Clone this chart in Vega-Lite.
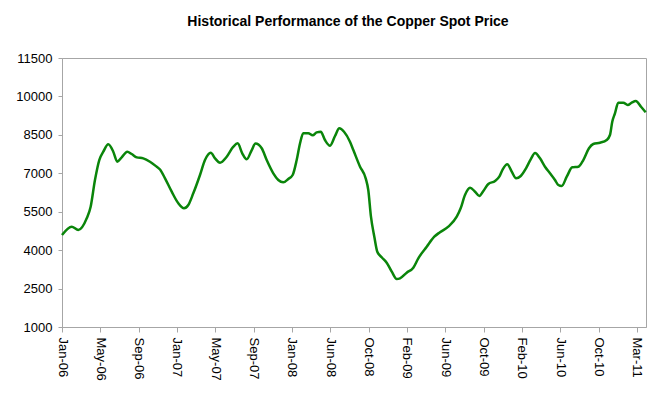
{
  "$schema": "https://vega.github.io/schema/vega-lite/v6.json",
  "width": 584,
  "height": 269,
  "autosize": {"type": "none"},
  "padding": {"left": 62, "top": 58, "right": 23, "bottom": 70},
  "background": "white",
  "title": {
    "text": "Historical Performance of the Copper Spot Price",
    "font": "Liberation Sans",
    "fontSize": 14,
    "fontWeight": "bold",
    "color": "black",
    "anchor": "middle",
    "dx": -6,
    "offset": 23
  },
  "config": {
    "view": {"stroke": "#a6a6a6", "strokeWidth": 1},
    "axis": {
      "labelFont": "Liberation Sans",
      "labelFontSize": 13,
      "labelColor": "black",
      "domainColor": "#a6a6a6",
      "tickColor": "#a6a6a6",
      "grid": false,
      "title": null
    }
  },
  "data": {
    "values": [
      {"t": 0, "price": 4591},
      {"t": 1.01, "price": 4915},
      {"t": 1.70, "price": 4786},
      {"t": 2.58, "price": 5243},
      {"t": 2.99, "price": 5696},
      {"t": 3.44, "price": 6738},
      {"t": 3.89, "price": 7518},
      {"t": 4.31, "price": 7843},
      {"t": 4.83, "price": 8131},
      {"t": 5.35, "price": 7843},
      {"t": 5.77, "price": 7452},
      {"t": 6.23, "price": 7623},
      {"t": 6.81, "price": 7843},
      {"t": 7.27, "price": 7752},
      {"t": 7.80, "price": 7623},
      {"t": 8.48, "price": 7584},
      {"t": 9.18, "price": 7452},
      {"t": 9.88, "price": 7257},
      {"t": 10.23, "price": 7150},
      {"t": 10.75, "price": 6804},
      {"t": 11.45, "price": 6281},
      {"t": 12.14, "price": 5828},
      {"t": 12.73, "price": 5633},
      {"t": 13.18, "price": 5762},
      {"t": 13.70, "price": 6218},
      {"t": 14.40, "price": 6933},
      {"t": 14.92, "price": 7518},
      {"t": 15.52, "price": 7803},
      {"t": 15.97, "price": 7584},
      {"t": 16.49, "price": 7413},
      {"t": 17.19, "price": 7647},
      {"t": 17.88, "price": 8038},
      {"t": 18.33, "price": 8170},
      {"t": 18.81, "price": 7779},
      {"t": 19.27, "price": 7545},
      {"t": 19.80, "price": 7908},
      {"t": 20.19, "price": 8160},
      {"t": 20.84, "price": 7975},
      {"t": 21.36, "price": 7518},
      {"t": 22.05, "price": 6999},
      {"t": 22.57, "price": 6738},
      {"t": 23.09, "price": 6648},
      {"t": 23.61, "price": 6777},
      {"t": 24.07, "price": 6933},
      {"t": 24.49, "price": 7518},
      {"t": 24.84, "price": 8170},
      {"t": 25.18, "price": 8560},
      {"t": 25.70, "price": 8560},
      {"t": 26.16, "price": 8482},
      {"t": 26.58, "price": 8599},
      {"t": 27.00, "price": 8623},
      {"t": 27.44, "price": 8299},
      {"t": 27.97, "price": 8077},
      {"t": 28.49, "price": 8455},
      {"t": 28.94, "price": 8755},
      {"t": 29.43, "price": 8623},
      {"t": 30.05, "price": 8232},
      {"t": 30.40, "price": 7908},
      {"t": 31.10, "price": 7257},
      {"t": 31.69, "price": 6804},
      {"t": 31.96, "price": 6347},
      {"t": 32.24, "price": 5305},
      {"t": 32.59, "price": 4524},
      {"t": 32.90, "price": 3939},
      {"t": 33.36, "price": 3720},
      {"t": 33.88, "price": 3510},
      {"t": 34.41, "price": 3159},
      {"t": 34.93, "price": 2874},
      {"t": 35.27, "price": 2900},
      {"t": 35.97, "price": 3120},
      {"t": 36.66, "price": 3315},
      {"t": 37.18, "price": 3681},
      {"t": 38.06, "price": 4134},
      {"t": 38.85, "price": 4524},
      {"t": 39.44, "price": 4700},
      {"t": 40.31, "price": 4915},
      {"t": 41.19, "price": 5305},
      {"t": 41.60, "price": 5633},
      {"t": 42.05, "price": 6152},
      {"t": 42.58, "price": 6437},
      {"t": 43.10, "price": 6281},
      {"t": 43.55, "price": 6113},
      {"t": 43.97, "price": 6308},
      {"t": 44.49, "price": 6581},
      {"t": 45.19, "price": 6698},
      {"t": 45.63, "price": 6866},
      {"t": 45.99, "price": 7155},
      {"t": 46.47, "price": 7350},
      {"t": 46.93, "price": 7062},
      {"t": 47.38, "price": 6804},
      {"t": 47.87, "price": 6894},
      {"t": 48.42, "price": 7194},
      {"t": 48.91, "price": 7545},
      {"t": 49.36, "price": 7790},
      {"t": 49.88, "price": 7584},
      {"t": 50.40, "price": 7257},
      {"t": 50.92, "price": 6999},
      {"t": 51.44, "price": 6738},
      {"t": 51.79, "price": 6542},
      {"t": 52.14, "price": 6503},
      {"t": 52.67, "price": 6866},
      {"t": 53.25, "price": 7233},
      {"t": 53.88, "price": 7257},
      {"t": 54.40, "price": 7518},
      {"t": 54.99, "price": 7975},
      {"t": 55.44, "price": 8143},
      {"t": 56.14, "price": 8194},
      {"t": 56.84, "price": 8299},
      {"t": 57.18, "price": 8494},
      {"t": 57.42, "price": 9013},
      {"t": 57.70, "price": 9340},
      {"t": 58.05, "price": 9755},
      {"t": 58.57, "price": 9755},
      {"t": 59.03, "price": 9665},
      {"t": 59.45, "price": 9755},
      {"t": 59.87, "price": 9821},
      {"t": 60.42, "price": 9599},
      {"t": 60.91, "price": 9380}
    ]
  },
  "mark": {"type": "line", "color": "#0a850a", "strokeWidth": 2.5, "interpolate": "monotone"},
  "encoding": {
    "x": {
      "field": "t",
      "type": "quantitative",
      "scale": {"domain": [0, 60.94], "nice": false, "zero": false},
      "axis": {
        "values": [0, 4, 8, 12, 16, 20, 24, 28, 32, 36, 40, 44, 48, 52, 56, 60],
        "labelAngle": 90,
        "labelAlign": "left",
        "labelBaseline": "middle",
        "labelPadding": 5,
        "tickSize": 5,
        "labelFlush": false,
        "labelOverlap": false,
        "labelExpr": "['Jan-06','May-06','Sep-06','Jan-07','May-07','Sep-07','Jan-08','Jun-08','Oct-08','Feb-09','Jun-09','Oct-09','Feb-10','Jun-10','Oct-10','Mar-11'][round(datum.value/4)]"
      }
    },
    "y": {
      "field": "price",
      "type": "quantitative",
      "scale": {"domain": [1000, 11500], "nice": false, "zero": false},
      "axis": {
        "values": [1000, 2500, 4000, 5500, 7000, 8500, 10000, 11500],
        "format": "d",
        "tickSize": 4,
        "labelPadding": 6,
        "labelFlush": false,
        "labelOverlap": false
      }
    }
  }
}
